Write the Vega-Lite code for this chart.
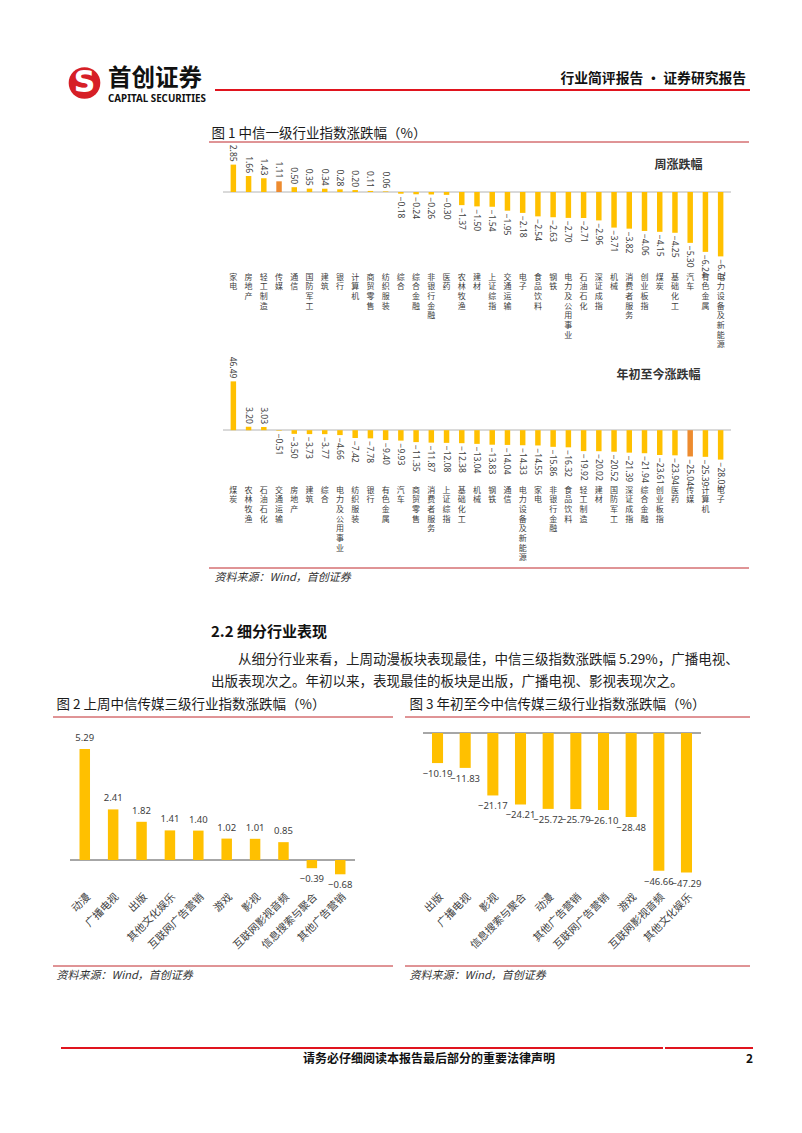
{
"$schema": "https://vega.github.io/schema/vega-lite/v6.json",
"background": "white",
"padding": {"left": 50, "top": 61, "right": 5, "bottom": 5},
"spacing": 0,
"config": {
  "view": {"stroke": null},
  "font": "Noto Sans CJK SC",
  "concat": {"spacing": 0},
  "title": {"font": "Noto Sans CJK SC", "subtitleFont": "Noto Sans CJK SC", "color": "#1a1a1a", "subtitleColor": "#1a1a1a", "fontWeight": "normal"},
  "axis": {"labelFont": "Noto Sans CJK SC"},
  "text": {"font": "Noto Sans CJK SC"}
},
"datasets": {
  "weekly": [
    {"name": "家电", "v": 2.85}, {"name": "房地产", "v": 1.66}, {"name": "轻工制造", "v": 1.43}, {"name": "传媒", "v": 1.11},
    {"name": "通信", "v": 0.50}, {"name": "国防军工", "v": 0.35}, {"name": "建筑", "v": 0.34}, {"name": "银行", "v": 0.28},
    {"name": "计算机", "v": 0.20}, {"name": "商贸零售", "v": 0.11}, {"name": "纺织服装", "v": 0.06}, {"name": "综合", "v": -0.18},
    {"name": "综合金融", "v": -0.24}, {"name": "非银行金融", "v": -0.26}, {"name": "医药", "v": -0.30}, {"name": "农林牧渔", "v": -1.37},
    {"name": "建材", "v": -1.50}, {"name": "上证综指", "v": -1.54}, {"name": "交通运输", "v": -1.95}, {"name": "电子", "v": -2.18},
    {"name": "食品饮料", "v": -2.54}, {"name": "钢铁", "v": -2.63}, {"name": "电力及公用事业", "v": -2.70}, {"name": "石油石化", "v": -2.71},
    {"name": "深证成指", "v": -2.96}, {"name": "机械", "v": -3.71}, {"name": "消费者服务", "v": -3.82}, {"name": "创业板指", "v": -4.06},
    {"name": "煤炭", "v": -4.15}, {"name": "基础化工", "v": -4.25}, {"name": "汽车", "v": -5.30}, {"name": "有色金属", "v": -6.24},
    {"name": "电力设备及新能源", "v": -6.71}
  ],
  "ytd": [
    {"name": "煤炭", "v": 46.49}, {"name": "农林牧渔", "v": 3.20}, {"name": "石油石化", "v": 3.03}, {"name": "交通运输", "v": -0.51},
    {"name": "房地产", "v": -3.50}, {"name": "建筑", "v": -3.73}, {"name": "综合", "v": -3.77}, {"name": "电力及公用事业", "v": -4.66},
    {"name": "纺织服装", "v": -7.42}, {"name": "银行", "v": -7.78}, {"name": "有色金属", "v": -9.40}, {"name": "汽车", "v": -9.93},
    {"name": "商贸零售", "v": -11.35}, {"name": "消费者服务", "v": -11.87}, {"name": "上证综指", "v": -12.08}, {"name": "基础化工", "v": -12.38},
    {"name": "机械", "v": -13.04}, {"name": "钢铁", "v": -13.83}, {"name": "通信", "v": -14.04}, {"name": "电力设备及新能源", "v": -14.33},
    {"name": "家电", "v": -14.55}, {"name": "非银行金融", "v": -15.86}, {"name": "食品饮料", "v": -16.32}, {"name": "轻工制造", "v": -19.92},
    {"name": "建材", "v": -20.02}, {"name": "国防军工", "v": -20.52}, {"name": "深证成指", "v": -21.39}, {"name": "综合金融", "v": -21.94},
    {"name": "创业板指", "v": -23.61}, {"name": "医药", "v": -23.94}, {"name": "传媒", "v": -25.04}, {"name": "计算机", "v": -25.39},
    {"name": "电子", "v": -28.03}
  ],
  "f2": [
    {"name": "动漫", "v": 5.29}, {"name": "广播电视", "v": 2.41}, {"name": "出版", "v": 1.82}, {"name": "其他文化娱乐", "v": 1.41},
    {"name": "互联网广告营销", "v": 1.40}, {"name": "游戏", "v": 1.02}, {"name": "影视", "v": 1.01}, {"name": "互联网影视音频", "v": 0.85},
    {"name": "信息搜索与聚合", "v": -0.39}, {"name": "其他广告营销", "v": -0.68}
  ],
  "f3": [
    {"name": "出版", "v": -10.19}, {"name": "广播电视", "v": -11.83}, {"name": "影视", "v": -21.17}, {"name": "信息搜索与聚合", "v": -24.21},
    {"name": "动漫", "v": -25.72}, {"name": "其他广告营销", "v": -25.79}, {"name": "互联网广告营销", "v": -26.10}, {"name": "游戏", "v": -28.48},
    {"name": "互联网影视音频", "v": -46.66}, {"name": "其他文化娱乐", "v": -47.29}
  ]
},
"vconcat": [
  {"spacing": 0, "hconcat": [
    {"width": 8, "height": 1, "data": {"values": [{}]}, "mark": {"type": "point", "opacity": 0}},
    {"width": 47, "height": 38, "data": {"values": [{}]}, "layer": [
      {"mark": {"type": "point", "shape": "circle", "filled": true, "size": 1000, "color": "#D61F26", "opacity": 1}},
      {"mark": {"type": "text", "text": "S", "fontSize": 30, "fontWeight": "bold", "font": "DejaVu Sans", "color": "white", "baseline": "middle", "align": "center"}}
    ]},
    {"width": 105, "height": 38, "data": {"values": [{}]}, "mark": {"type": "point", "opacity": 0},
     "title": {"text": "首创证券", "subtitle": "CAPITAL SECURITIES", "orient": "bottom", "anchor": "start", "baseline": "top", "offset": -35, "fontSize": 23.5, "fontWeight": "bold", "color": "#111111", "subtitleFont": "Noto Sans", "subtitleFontSize": 9.8, "subtitleFontWeight": "bold", "subtitleColor": "#111111", "subtitlePadding": 3}},
    {"width": 535, "height": 26, "data": {"values": [{}]}, "mark": {"type": "rule", "color": "#E0141E", "strokeWidth": 2.2},
     "encoding": {"y": {"datum": 0, "scale": {"domain": [0, 1]}, "axis": null}},
     "title": {"text": "行业简评报告 · 证券研究报告", "orient": "bottom", "anchor": "end", "baseline": "top", "offset": -19, "dx": -5, "fontSize": 13.8, "fontWeight": "bold", "color": "#111111"}}
  ]},
  {"width": 1, "height": 20, "data": {"values": [{}]}, "mark": {"type": "point", "opacity": 0}},
  {"spacing": 0, "hconcat": [
    {"width": 155, "height": 1, "data": {"values": [{}]}, "mark": {"type": "point", "opacity": 0}},
    {"spacing": 0, "vconcat": [
      {"width": 540, "height": 15, "data": {"values": [{}]}, "mark": {"type": "rule", "color": "#C0282D", "strokeWidth": 1},
       "encoding": {"y": {"datum": 0, "scale": {"domain": [0, 1]}, "axis": null}},
       "title": {"text": "图 1 中信一级行业指数涨跌幅（%）", "orient": "bottom", "anchor": "start", "baseline": "top", "offset": -16, "dx": 3, "fontSize": 13.5}},
      {"spacing": 0, "hconcat": [
        {"width": 13, "height": 1, "data": {"values": [{}]}, "mark": {"type": "point", "opacity": 0}},
        {"width": 508, "height": 206, "data": {"name": "weekly"},
         "title": {"text": "周涨跌幅", "orient": "top", "anchor": "end", "offset": -27, "dx": -29, "fontSize": 12, "fontWeight": "bold", "color": "#333333"},
         "layer": [
          {"mark": {"type": "rule", "color": "#D9D9D9", "strokeWidth": 1}, "encoding": {"y": {"datum": 0, "type": "quantitative", "axis": null}}},
          {"mark": {"type": "bar"}, "encoding": {
            "x": {"field": "name", "type": "nominal", "sort": null, "scale": {"paddingInner": 0.64, "paddingOuter": 0.5},
                  "axis": {"title": null, "domain": false, "ticks": false, "offset": -87, "labelAngle": 0, "labelAlign": "center", "labelBaseline": "top", "labelPadding": 8, "labelFontSize": 8, "labelLineHeight": 9.7, "labelColor": "#404040", "labelExpr": "split(datum.label, '')", "labelOverlap": false, "labelLimit": 0}},
            "y": {"field": "v", "type": "quantitative", "scale": {"domain": [-16.67, 4.79], "nice": false, "zero": false}, "axis": null},
            "color": {"condition": {"test": "datum.name === '传媒'", "value": "#ED8B2F"}, "value": "#FFC000"}}},
          {"mark": {"type": "text", "angle": 90, "baseline": "middle", "fontSize": 8.5, "color": "#404040", "font": "Noto Sans", "align": {"expr": "datum.v >= 0 ? 'right' : 'left'"}, "dx": {"expr": "datum.v >= 0 ? -3 : 3"}},
           "encoding": {"x": {"field": "name", "type": "nominal", "sort": null}, "y": {"field": "v", "type": "quantitative", "axis": null}, "text": {"field": "v", "type": "quantitative", "format": ".2f"}}}
         ]}
      ]},
      {"spacing": 0, "hconcat": [
        {"width": 13, "height": 1, "data": {"values": [{}]}, "mark": {"type": "point", "opacity": 0}},
        {"width": 508, "height": 212, "data": {"name": "ytd"},
         "title": {"text": "年初至今涨跌幅", "orient": "top", "anchor": "end", "offset": -27, "dx": -31, "fontSize": 12, "fontWeight": "bold", "color": "#333333"},
         "layer": [
          {"mark": {"type": "rule", "color": "#D9D9D9", "strokeWidth": 1}, "encoding": {"y": {"datum": 0, "type": "quantitative", "axis": null}}},
          {"mark": {"type": "bar"}, "encoding": {
            "x": {"field": "name", "type": "nominal", "sort": null, "scale": {"paddingInner": 0.64, "paddingOuter": 0.5},
                  "axis": {"title": null, "domain": false, "ticks": false, "offset": -88, "labelAngle": 0, "labelAlign": "center", "labelBaseline": "top", "labelPadding": 7, "labelFontSize": 8, "labelLineHeight": 9.7, "labelColor": "#404040", "labelExpr": "split(datum.label, '')", "labelOverlap": false, "labelLimit": 0}},
            "y": {"field": "v", "type": "quantitative", "scale": {"domain": [-130.3, 71.6], "nice": false, "zero": false}, "axis": null},
            "color": {"condition": {"test": "datum.name === '传媒'", "value": "#ED8B2F"}, "value": "#FFC000"}}},
          {"mark": {"type": "text", "angle": 90, "baseline": "middle", "fontSize": 8.5, "color": "#404040", "font": "Noto Sans", "align": {"expr": "datum.v >= 0 ? 'right' : 'left'"}, "dx": {"expr": "datum.v >= 0 ? -3 : 3"}},
           "encoding": {"x": {"field": "name", "type": "nominal", "sort": null}, "y": {"field": "v", "type": "quantitative", "axis": null}, "text": {"field": "v", "type": "quantitative", "format": ".2f"}}}
         ]}
      ]},
      {"width": 540, "height": 18, "data": {"values": [{}]}, "mark": {"type": "rule", "color": "#C0282D", "strokeWidth": 1},
       "encoding": {"y": {"datum": 1, "scale": {"domain": [0, 1]}, "axis": null}},
       "title": {"text": "资料来源：Wind，首创证券", "orient": "bottom", "anchor": "start", "baseline": "top", "offset": -14, "dx": 6, "fontSize": 11, "fontStyle": "italic", "color": "#333333"}}
    ]}
  ]},
  {"width": 1, "height": 33, "data": {"values": [{}]}, "mark": {"type": "point", "opacity": 0}},
  {"spacing": 0, "hconcat": [
    {"width": 155, "height": 1, "data": {"values": [{}]}, "mark": {"type": "point", "opacity": 0}},
    {"width": 540, "height": 76, "data": {"values": [{}]}, "mark": {"type": "point", "opacity": 0},
     "title": {"text": "2.2  细分行业表现", "subtitle": ["\u200b\u3000\u3000从细分行业来看，上周动漫板块表现最佳，中信三级指数涨跌幅 5.29%，广播电视、", "出版表现次之。年初以来，表现最佳的板块是出版，广播电视、影视表现次之。"],
               "orient": "bottom", "anchor": "start", "baseline": "top", "offset": -73.5, "dx": 3, "fontSize": 15, "fontWeight": "bold", "color": "#111111",
               "subtitleFontSize": 13.5, "subtitleLineHeight": 22, "subtitlePadding": 13, "subtitleColor": "#222222"}}
  ]},
  {"spacing": 10, "hconcat": [
    {"spacing": 0, "vconcat": [
      {"width": 340, "height": 19, "data": {"values": [{}]}, "mark": {"type": "rule", "color": "#C0282D", "strokeWidth": 1},
       "encoding": {"y": {"datum": 0, "scale": {"domain": [0, 1]}, "axis": null}},
       "title": {"text": "图 2 上周中信传媒三级行业指数涨跌幅（%）", "orient": "bottom", "anchor": "start", "baseline": "top", "offset": -19.25, "dx": 4, "fontSize": 13.5}},
      {"spacing": 0, "hconcat": [
        {"width": 16, "height": 1, "data": {"values": [{}]}, "mark": {"type": "point", "opacity": 0}},
        {"width": 285, "height": 244, "data": {"name": "f2"}, "layer": [
          {"mark": {"type": "rule", "color": "#A6A6A6", "strokeWidth": 1}, "encoding": {"y": {"datum": 0, "type": "quantitative", "axis": null}}},
          {"mark": {"type": "bar", "color": "#FFC000"}, "encoding": {
            "x": {"field": "name", "type": "nominal", "sort": null, "scale": {"paddingInner": 0.63, "paddingOuter": 0.335},
                  "axis": {"title": null, "domain": false, "ticks": false, "offset": -79, "labelAngle": -45, "labelAlign": "right", "labelBaseline": "middle", "labelPadding": 9, "labelOffset": 4, "labelFontSize": 10.5, "labelColor": "#404040", "labelOverlap": false, "labelLimit": 0}},
            "y": {"field": "v", "type": "quantitative", "scale": {"domain": [-5.0, 6.62], "nice": false, "zero": false}, "axis": null}}},
          {"mark": {"type": "text", "fontSize": 9.5, "color": "#404040", "font": "Noto Sans", "align": "center", "baseline": {"expr": "datum.v >= 0 ? 'bottom' : 'top'"}, "dy": {"expr": "datum.v >= 0 ? -6 : 6"}},
           "encoding": {"x": {"field": "name", "type": "nominal", "sort": null}, "y": {"field": "v", "type": "quantitative", "axis": null}, "text": {"field": "v", "type": "quantitative", "format": ".2f"}}}
        ]}
      ]},
      {"width": 340, "height": 18, "data": {"values": [{}]}, "mark": {"type": "rule", "color": "#C0282D", "strokeWidth": 1},
       "encoding": {"y": {"datum": 1, "scale": {"domain": [0, 1]}, "axis": null}},
       "title": {"text": "资料来源：Wind，首创证券", "orient": "bottom", "anchor": "start", "baseline": "top", "offset": -14, "dx": 4, "fontSize": 11, "fontStyle": "italic", "color": "#333333"}}
    ]},
    {"spacing": 0, "vconcat": [
      {"width": 345, "height": 19, "data": {"values": [{}]}, "mark": {"type": "rule", "color": "#C0282D", "strokeWidth": 1},
       "encoding": {"y": {"datum": 0, "scale": {"domain": [0, 1]}, "axis": null}},
       "title": {"text": "图 3 年初至今中信传媒三级行业指数涨跌幅（%）", "orient": "bottom", "anchor": "start", "baseline": "top", "offset": -19.25, "dx": 5, "fontSize": 13.5}},
      {"spacing": 0, "hconcat": [
        {"width": 17, "height": 1, "data": {"values": [{}]}, "mark": {"type": "point", "opacity": 0}},
        {"width": 278, "height": 244, "data": {"name": "f3"}, "layer": [
          {"mark": {"type": "rule", "color": "#A6A6A6", "strokeWidth": 1}, "encoding": {"y": {"datum": 0, "type": "quantitative", "axis": null}}},
          {"mark": {"type": "bar", "color": "#FFC000"}, "encoding": {
            "x": {"field": "name", "type": "nominal", "sort": null, "scale": {"paddingInner": 0.6, "paddingOuter": 0.325},
                  "axis": {"title": null, "domain": false, "ticks": false, "offset": -79, "labelAngle": -45, "labelAlign": "right", "labelBaseline": "middle", "labelPadding": 9, "labelOffset": 4, "labelFontSize": 10.5, "labelColor": "#404040", "labelOverlap": false, "labelLimit": 0}},
            "y": {"field": "v", "type": "quantitative", "scale": {"domain": [-78.64, 4.07], "nice": false, "zero": false}, "axis": null}}},
          {"mark": {"type": "text", "fontSize": 9.5, "color": "#404040", "font": "Noto Sans", "align": "center", "baseline": {"expr": "datum.v >= 0 ? 'bottom' : 'top'"}, "dy": {"expr": "datum.v >= 0 ? -6 : 6"}},
           "encoding": {"x": {"field": "name", "type": "nominal", "sort": null}, "y": {"field": "v", "type": "quantitative", "axis": null}, "text": {"field": "v", "type": "quantitative", "format": ".2f"}}}
        ]}
      ]},
      {"width": 345, "height": 18, "data": {"values": [{}]}, "mark": {"type": "rule", "color": "#C0282D", "strokeWidth": 1},
       "encoding": {"y": {"datum": 1, "scale": {"domain": [0, 1]}, "axis": null}},
       "title": {"text": "资料来源：Wind，首创证券", "orient": "bottom", "anchor": "start", "baseline": "top", "offset": -14, "dx": 5, "fontSize": 11, "fontStyle": "italic", "color": "#333333"}}
    ]}
  ]},
  {"width": 1, "height": 61, "data": {"values": [{}]}, "mark": {"type": "point", "opacity": 0}},
  {"spacing": 0, "hconcat": [
    {"width": 7, "height": 1, "data": {"values": [{}]}, "mark": {"type": "point", "opacity": 0}},
    {"width": 600, "height": 20, "data": {"values": [{}]}, "mark": {"type": "rule", "color": "#E0141E", "strokeWidth": 2, "strokeCap": "square"},
     "encoding": {"y": {"datum": 1, "scale": {"domain": [0, 1]}, "axis": null}},
     "title": {"text": "请务必仔细阅读本报告最后部分的重要法律声明", "orient": "bottom", "anchor": "middle", "baseline": "top", "offset": -14, "dx": 67, "fontSize": 12, "fontWeight": "bold", "color": "#111111"}},
    {"width": 88, "height": 20, "data": {"values": [{}]}, "mark": {"type": "rule", "color": "#E0141E", "strokeWidth": 2},
     "encoding": {"y": {"datum": 1, "scale": {"domain": [0, 1]}, "axis": null}},
     "title": {"text": "2", "orient": "bottom", "anchor": "end", "baseline": "top", "offset": -14, "dx": -1, "fontSize": 12, "fontWeight": "bold", "color": "#111111"}}
  ]}
]
}
